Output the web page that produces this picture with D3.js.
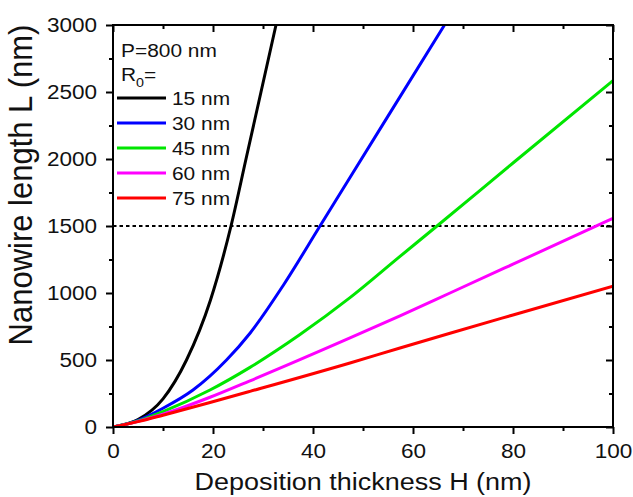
<!DOCTYPE html>
<html>
<head>
<meta charset="utf-8">
<script src="https://cdn.jsdelivr.net/npm/d3@7"></script>
<style>
  body { margin: 0; background: #fff; }
  text { font-family: "Liberation Sans", Arial, sans-serif; fill: #111; }
</style>
</head>
<body>
<svg id="chart" width="633" height="497"></svg>
<script>
// Nanowire length L (nm) against deposition thickness H (nm), one curve per R0
const radii = ["15 nm", "30 nm", "45 nm", "60 nm", "75 nm"];
const lineColors = ["#000000", "#0000ff", "#00e600", "#ff00ff", "#ff0000"];

// [H, L] pairs
const curveR15 = [[0,0],[5,55],[10,210],[14.7,500],[19.5,948],[23.6,1500],[26.7,2017],[29.6,2500],[32.6,3000]];
const curveR30 = [[0,0],[5,50],[10,140],[16,276],[22.7,500],[27.4,700],[34.1,1060],[41.4,1500],[47.4,1862],[55,2320],[66.3,3000]];
const curveR45 = [[0,0],[5,45],[10,115],[19.4,276],[27.4,445],[37.4,690],[47.4,965],[57.4,1273],[64.8,1500],[80,1970],[100,2585]];
const curveR60 = [[0,0],[5,42],[10,95],[19.4,222],[27.4,345],[47.4,665],[57.4,830],[67.4,1000],[80,1215],[100,1557]];
const curveR75 = [[0,0],[5,40],[10,88],[19.4,183],[27.4,266],[47.4,478],[57.4,590],[67.4,700],[80,836],[100,1050]];
const curves = [curveR15, curveR30, curveR45, curveR60, curveR75];

const refLength = 1500;           // dashed reference level
const xTicks = [0, 20, 40, 60, 80, 100];
const xMinorTicks = [10, 30, 50, 70, 90];
const yTicks = [0, 500, 1000, 1500, 2000, 2500, 3000];
const yMinorTicks = [250, 750, 1250, 1750, 2250, 2750];

const plotLeft = 113, plotRight = 613, plotTop = 25, plotBottom = 427;
const STRETCH = 1.1;

const svg = d3.select("#chart");
const x = d3.scaleLinear().domain([0, 100]).range([plotLeft, plotRight]);
const y = d3.scaleLinear().domain([0, 3000]).range([plotBottom, plotTop]);

svg.append("defs").append("clipPath").attr("id", "plotClip")
  .append("rect").attr("x", plotLeft).attr("y", plotTop - 2)
  .attr("width", plotRight - plotLeft).attr("height", plotBottom - plotTop + 2);

// axes: bottom and left carry labels, top and right ticks point inward
function styleAxis(g) {
  g.select(".domain").remove();
  g.selectAll(".tick line").attr("stroke", "#000").attr("stroke-width", 2);
}
const tickFont = 20.5;

const gx = svg.append("g").attr("transform", `translate(0,${plotBottom})`)
  .call(d3.axisBottom(x).tickValues(xTicks).tickSize(7).tickPadding(9).tickFormat(d3.format("d")))
  .call(styleAxis);
gx.selectAll(".tick text")
  .attr("font-size", tickFont)
  .attr("font-family", "Liberation Sans, Arial, sans-serif")
  .attr("fill", "#111")
  .attr("transform", `scale(${STRETCH},1)`);
svg.append("g").attr("transform", `translate(0,${plotBottom})`)
  .call(d3.axisBottom(x).tickValues(xMinorTicks).tickSize(4).tickFormat(""))
  .call(styleAxis);

const gy = svg.append("g").attr("transform", `translate(${plotLeft},0)`)
  .call(d3.axisLeft(y).tickValues(yTicks).tickSize(7).tickPadding(9).tickFormat(d3.format("d")))
  .call(styleAxis);
gy.selectAll(".tick text")
  .attr("font-size", tickFont)
  .attr("font-family", "Liberation Sans, Arial, sans-serif")
  .attr("fill", "#111")
  .attr("x", -16 / STRETCH)
  .attr("transform", `scale(${STRETCH},1)`);
svg.append("g").attr("transform", `translate(${plotLeft},0)`)
  .call(d3.axisLeft(y).tickValues(yMinorTicks).tickSize(4).tickFormat(""))
  .call(styleAxis);

svg.append("g").attr("transform", `translate(0,${plotTop})`)
  .call(d3.axisBottom(x).tickValues(xTicks).tickSize(7).tickFormat(""))
  .call(styleAxis);
svg.append("g").attr("transform", `translate(0,${plotTop})`)
  .call(d3.axisBottom(x).tickValues(xMinorTicks).tickSize(4).tickFormat(""))
  .call(styleAxis);
svg.append("g").attr("transform", `translate(${plotRight},0)`)
  .call(d3.axisLeft(y).tickValues(yTicks).tickSize(7).tickFormat(""))
  .call(styleAxis);
svg.append("g").attr("transform", `translate(${plotRight},0)`)
  .call(d3.axisLeft(y).tickValues(yMinorTicks).tickSize(4).tickFormat(""))
  .call(styleAxis);

// dashed reference line
svg.append("line")
  .attr("x1", x(0)).attr("x2", x(100))
  .attr("y1", y(refLength)).attr("y2", y(refLength))
  .attr("stroke", "#000").attr("stroke-width", 1.8)
  .attr("stroke-dasharray", "3.5,3");

// curves
const line = d3.line().x(d => x(d[0])).y(d => y(d[1])).curve(d3.curveMonotoneX);
svg.append("g").attr("clip-path", "url(#plotClip)")
  .selectAll("path").data(curves).join("path")
  .attr("d", line)
  .attr("fill", "none")
  .attr("stroke", (d, i) => lineColors[i])
  .attr("stroke-width", 3);

// frame
svg.append("rect")
  .attr("x", plotLeft).attr("y", plotTop)
  .attr("width", plotRight - plotLeft).attr("height", plotBottom - plotTop)
  .attr("fill", "none").attr("stroke", "#000").attr("stroke-width", 2);

// legend
const legend = svg.append("g");
function stretched(parent, tx, ty, size) {
  return parent.append("text")
    .attr("transform", `translate(${tx},${ty}) scale(${STRETCH},1)`)
    .attr("font-size", size);
}
stretched(legend, 121, 57, 19).text("P=800 nm");
const r0 = stretched(legend, 121, 81, 19);
r0.append("tspan").text("R");
r0.append("tspan").attr("font-size", 13).attr("dy", 6).text("0");
r0.append("tspan").attr("dy", -6).text("=");
radii.forEach((label, i) => {
  const ly = 98 + i * 25;
  legend.append("line")
    .attr("x1", 117).attr("x2", 166).attr("y1", ly).attr("y2", ly)
    .attr("stroke", lineColors[i]).attr("stroke-width", 3);
  stretched(legend, 172, ly + 7, 19).text(label);
});

// axis titles
svg.append("text")
  .attr("transform", `translate(${(plotLeft + plotRight) / 2},490) scale(${STRETCH},1)`)
  .attr("text-anchor", "middle")
  .attr("font-size", 24.5)
  .text("Deposition thickness H (nm)");
svg.append("text")
  .attr("transform", `translate(32,185) rotate(-90) scale(1,1.05)`)
  .attr("text-anchor", "middle")
  .attr("font-size", 31)
  .text("Nanowire length L (nm)");
</script>
</body>
</html>
